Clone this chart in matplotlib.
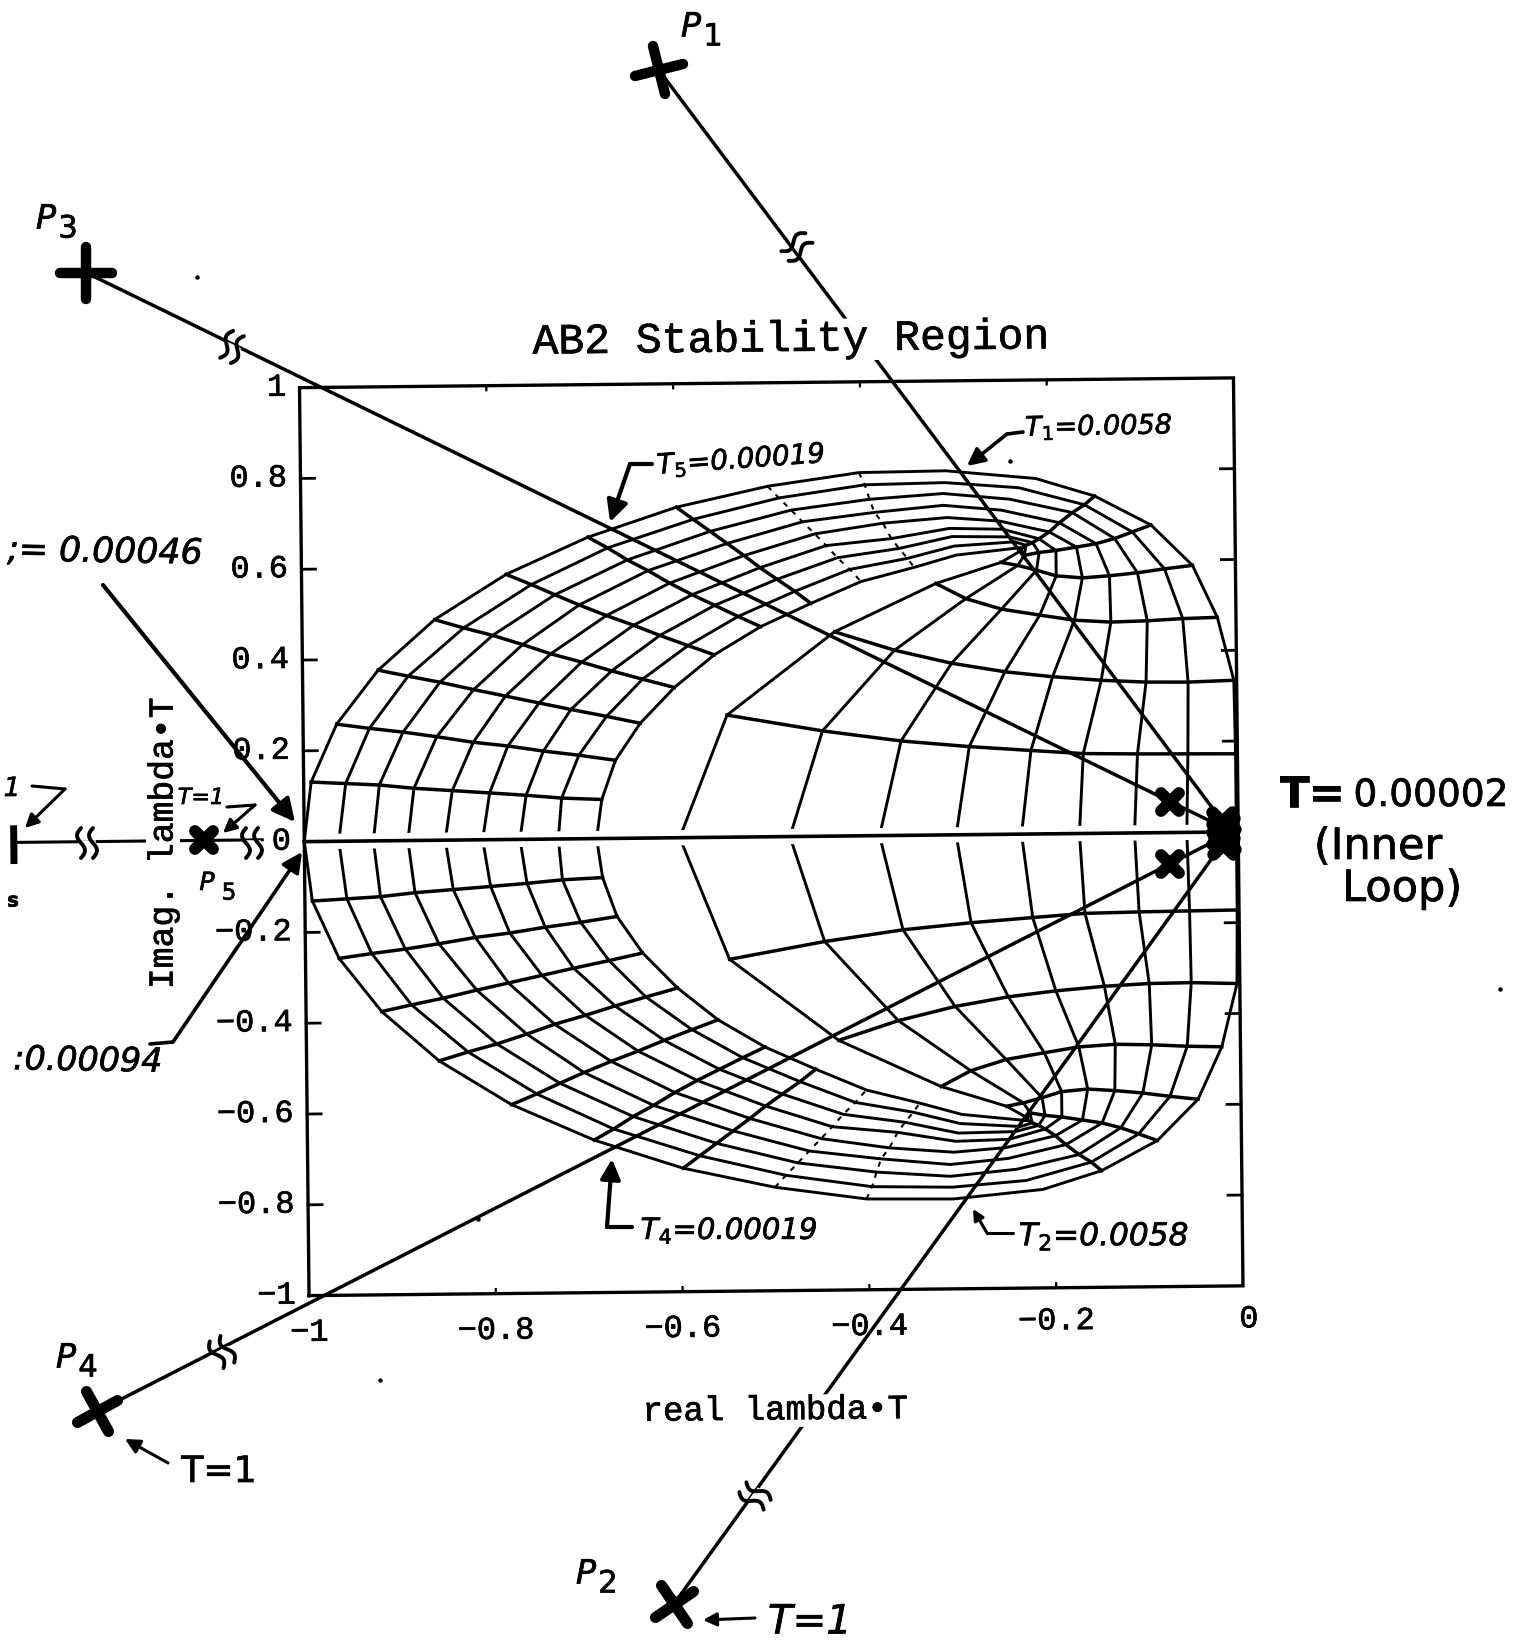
import numpy as np
import matplotlib
matplotlib.use("Agg")
import matplotlib.pyplot as plt
import matplotlib.patheffects as pe
from matplotlib.lines import Line2D
from matplotlib.markers import MarkerStyle
from matplotlib.patches import FancyArrowPatch
from matplotlib.transforms import Affine2D

W, H = 1530, 1649

# Stability mesh, upper half. Each row is one cross line, each column one T curve.
mesh_x = [
    [-1.000, -0.963, -0.926, -0.889, -0.849, -0.809, -0.769, -0.728, -0.687],
    [-0.992, -0.955, -0.919, -0.882, -0.841, -0.801, -0.762, -0.724, -0.681],
    [-0.964, -0.929, -0.893, -0.857, -0.818, -0.781, -0.743, -0.705, -0.666],
    [-0.919, -0.887, -0.853, -0.817, -0.783, -0.747, -0.713, -0.675, -0.639],
    [-0.858, -0.827, -0.796, -0.764, -0.734, -0.701, -0.669, -0.636, -0.602],
    [-0.781, -0.754, -0.729, -0.703, -0.674, -0.645, -0.617, -0.587, -0.559],
    [-0.693, -0.672, -0.651, -0.629, -0.606, -0.582, -0.558, -0.533, -0.509],
    [-0.598, -0.580, -0.562, -0.544, -0.526, -0.509, -0.491, -0.472, -0.455],
    [-0.500, -0.488, -0.475, -0.463, -0.450, -0.438, -0.426, -0.413, -0.401],
    [-0.402, -0.396, -0.391, -0.386, -0.377, -0.368, -0.360, -0.351, -0.344],
    [-0.309, -0.310, -0.312, -0.312, -0.308, -0.306, -0.303, -0.301, -0.299],
    [-0.213, -0.231, -0.241, -0.250, -0.252, -0.249, -0.242, -0.236, -0.230],
    [-0.150, -0.161, -0.174, -0.188, -0.199, -0.210, -0.217, -0.224, -0.229],
    [-0.090, -0.110, -0.129, -0.149, -0.170, -0.192, -0.210, -0.226, -0.229],
    [-0.046, -0.076, -0.105, -0.135, -0.164, -0.192, -0.213, -0.233, -0.251],
    [-0.020, -0.057, -0.095, -0.134, -0.173, -0.210, -0.251, -0.289, -0.321],
    [-0.003, -0.052, -0.097, -0.145, -0.197, -0.248, -0.305, -0.366, -0.430],
    [-0.002, -0.053, -0.107, -0.165, -0.221, -0.287, -0.360, -0.444, -0.546],
    [-0.002, -0.055, -0.111, -0.170, -0.232, -0.302, -0.384, -0.480, -0.598],
]
mesh_y = [
    [0.000, 0.000, 0.000, 0.000, 0.000, 0.000, 0.000, 0.000, 0.000],
    [0.131, 0.127, 0.123, 0.115, 0.109, 0.103, 0.097, 0.090, 0.086],
    [0.258, 0.248, 0.239, 0.228, 0.215, 0.206, 0.194, 0.184, 0.172],
    [0.376, 0.362, 0.348, 0.331, 0.316, 0.300, 0.285, 0.269, 0.253],
    [0.486, 0.467, 0.450, 0.429, 0.408, 0.389, 0.369, 0.350, 0.331],
    [0.584, 0.561, 0.538, 0.515, 0.491, 0.469, 0.446, 0.423, 0.402],
    [0.664, 0.640, 0.613, 0.589, 0.561, 0.535, 0.511, 0.486, 0.463],
    [0.728, 0.701, 0.674, 0.647, 0.620, 0.593, 0.567, 0.540, 0.513],
    [0.772, 0.746, 0.719, 0.693, 0.666, 0.640, 0.613, 0.587, 0.560],
    [0.800, 0.773, 0.741, 0.712, 0.688, 0.654, 0.632, 0.610, 0.590],
    [0.802, 0.776, 0.752, 0.726, 0.699, 0.675, 0.657, 0.636, 0.616],
    [0.783, 0.763, 0.738, 0.714, 0.690, 0.672, 0.655, 0.644, 0.631],
    [0.743, 0.724, 0.707, 0.685, 0.665, 0.650, 0.642, 0.636, 0.629],
    [0.678, 0.663, 0.649, 0.638, 0.631, 0.624, 0.620, 0.614, 0.625],
    [0.588, 0.581, 0.573, 0.567, 0.563, 0.568, 0.581, 0.592, 0.599],
    [0.473, 0.471, 0.467, 0.465, 0.470, 0.482, 0.496, 0.520, 0.554],
    [0.334, 0.331, 0.332, 0.337, 0.346, 0.358, 0.378, 0.408, 0.450],
    [0.172, 0.173, 0.174, 0.176, 0.184, 0.194, 0.208, 0.232, 0.269],
    [0.000, 0.000, 0.000, 0.000, 0.000, 0.000, 0.000, 0.000, 0.000],
]
solid_rows = [1, 2, 3, 4, 5, 6, 7, 12, 13, 14, 15, 16, 17]
dashed_rows = [8, 9]

# Poles at T=1 and the poles they move to
pole_x = [-0.612, -0.613, -1.227, -1.228, -1.107]
pole_y = [1.692, -1.688, 1.258, -1.250, 0.005]
end_x = [-0.012, -0.012, -0.012, -0.012]
end_y = [0.010, -0.012, 0.006, -0.006]
mid_x = [-0.073, -0.0735]
mid_y = [0.068, -0.069]
blob_x = [-0.017, -0.015, -0.017, -0.014, -0.016]
blob_y = [0.022, 0.008, -0.004, -0.016, -0.026]

x_ticks = [-0.8, -0.6, -0.4, -0.2]
y_ticks = [-0.8, -0.6, -0.4, -0.2, 0.2, 0.4, 0.6, 0.8]
x_labels = ["-1", "-0.8", "-0.6", "-0.4", "-0.2", "0"]
x_label_pos = [-1, -0.8, -0.6, -0.4, -0.2, 0]
y_labels = ["-1", "-0.8", "-0.6", "-0.4", "-0.2", "0", "0.2", "0.4", "0.6", "0.8", "1"]
y_label_pos = [-1, -0.8, -0.6, -0.4, -0.2, 0, 0.2, 0.4, 0.6, 0.8, 1]

plt.rcParams["font.family"] = ["DejaVu Sans"]
plt.rcParams["mathtext.default"] = "it"
MONO = "Liberation Mono"
INK = [pe.withStroke(linewidth=0.5, foreground="black")]

fig = plt.figure(figsize=(W / 100, H / 100), dpi=100, facecolor="white")
ax = fig.add_axes([304.25 / W, 357.25 / H, 934 / W, 908 / H])
ax.set_xlim(-1, 0)
ax.set_ylim(-1, 1)
ax.axis("off")
# the page was scanned a little crooked
scan = ax.transData + Affine2D().rotate_deg_around(771.25, 811.25, 0.6)


def fp(x, y):
    return x / W, 1 - y / H


def hand_text(x, y, s, size, rot=0, **kw):
    kw.setdefault("style", "italic")
    t = fig.text(*fp(x, y), s, fontsize=size, rotation=rot, ha="center", va="center",
                 rotation_mode="anchor", color="black", zorder=6, **kw)
    t.set_path_effects(INK)


def p_label(x, y, digit, size):
    hand_text(x - 11, y - 2, "P", size)
    hand_text(x + 11, y + 8, digit, size * 0.92, style="normal")


def hand_arrow(pts, lw=2.4, head=24):
    xs, ys = zip(*[fp(*p) for p in pts[:-1]])
    if len(pts) > 2:
        fig.add_artist(Line2D(xs, ys, color="black", lw=lw, transform=fig.transFigure,
                              solid_capstyle="round", zorder=6))
    fig.add_artist(FancyArrowPatch(fp(*pts[-2]), fp(*pts[-1]), transform=fig.transFigure,
                                   arrowstyle="-|>", mutation_scale=head, lw=lw,
                                   color="black", shrinkA=0, shrinkB=0, zorder=6))


def line_break(cx, cy, dx, dy):
    # two small s-shaped strokes where the line is cut
    n = np.hypot(dx, dy)
    ux, uy = dx / n, dy / n
    vx, vy = -uy, ux
    a = fp(cx - 6 * ux, cy - 6 * uy)
    b = fp(cx + 6 * ux, cy + 6 * uy)
    fig.add_artist(Line2D([a[0], b[0]], [a[1], b[1]], color="white", lw=4,
                          transform=fig.transFigure, zorder=5))
    t = np.linspace(-1, 1, 21)
    for off in (-6, 6):
        px = cx + off * ux + 15 * t * vx + 4 * np.sin(np.pi * t) * ux
        py = cy + off * uy + 15 * t * vy + 4 * np.sin(np.pi * t) * uy
        q = np.array([fp(a1, b1) for a1, b1 in zip(px, py)])
        fig.add_artist(Line2D(q[:, 0], q[:, 1], color="black", lw=2.8,
                              transform=fig.transFigure, zorder=5,
                              solid_capstyle="round"))


mx = np.array(mesh_x)
my = np.array(mesh_y)

# mesh is symmetric about the real axis
for sign in (1, -1):
    for c in range(mx.shape[1]):
        ax.plot(mx[:, c], sign * my[:, c], color="black", lw=2.1, transform=scan,
                clip_on=False, zorder=2, solid_joinstyle="miter")
    for r in solid_rows:
        ax.plot(mx[r], sign * my[r], color="black", lw=2.5, transform=scan,
                clip_on=False, zorder=2)
    for r in dashed_rows:
        ax.plot(mx[r], sign * my[r], color="black", lw=1.5, linestyle=(0, (2.5, 3)),
                transform=scan, clip_on=False, zorder=2)

# the columns stop short of the real axis in the scan
ax.plot([-0.975, -0.008], [0, 0], color="white", lw=11, transform=scan,
        clip_on=False, zorder=3, solid_capstyle="butt")

# frame and ticks
ax.plot([-1, 0, 0, -1, -1], [-1, -1, 1, 1, -1], color="black", lw=2.4,
        transform=scan, clip_on=False, zorder=3, solid_joinstyle="miter")
for v in y_ticks:
    ax.plot([-1, -0.985], [v, v], color="black", lw=2, transform=scan, zorder=3, clip_on=False)
    ax.plot([-0.015, 0], [v, v], color="black", lw=2, transform=scan, zorder=3, clip_on=False)
for v in x_ticks:
    ax.plot([v, v], [-1, -0.99], color="black", lw=1.6, transform=scan, zorder=3, clip_on=False)
    ax.plot([v, v], [0.99, 1], color="black", lw=1.6, transform=scan, zorder=3, clip_on=False)

for v, s in zip(x_label_pos, x_labels):
    t = ax.text(v + (0.006 if v == 0 else 0), -1.082 if v < -0.2 else -1.074, s.replace("-", "\u2212"),
                transform=scan, family=MONO, fontsize=23, ha="center", va="center", rotation=0.6, zorder=7)
    t.set_path_effects(INK)
for v, s in zip(y_label_pos, y_labels):
    t = ax.text(-1.014, v, s.replace("-", "\u2212"), transform=scan, family=MONO, fontsize=23,
                ha="right", va="center", rotation=0.6, zorder=7)
    t.set_path_effects(INK)

# real axis, cut by the P5 part of the sketch
ax.plot([-1.0, 0], [0, 0], color="black", lw=2.6, transform=scan, clip_on=False, zorder=4)
ax.plot([-1.311, -1.045], [0.005, 0.005], color="black", lw=2.2, transform=scan,
        clip_on=False, zorder=4)

# root paths
for i in range(4):
    ax.plot([pole_x[i], end_x[i]], [pole_y[i], end_y[i]], color="black", lw=2.5,
            transform=scan, clip_on=False, zorder=4)

plus = [(36, 7.5, 14), (33, 8, 35), (38, 7.5, 0), (33, 8, 28)]
for i, (size, mew, turn) in enumerate(plus):
    m = MarkerStyle("+", transform=Affine2D().rotate_deg(turn), capstyle="round")
    ax.plot(pole_x[i], pole_y[i], marker=m, ms=size, mew=mew, color="black",
            transform=scan, clip_on=False, zorder=5, linestyle="none")
m = MarkerStyle("+", transform=Affine2D().rotate_deg(45), capstyle="round")
ax.plot(pole_x[4], pole_y[4], marker=m, ms=18, mew=8.5, color="black", transform=scan,
        clip_on=False, zorder=5, linestyle="none")
ax.plot(mid_x, mid_y, marker=m, ms=18, mew=8.5, color="black", transform=scan,
        clip_on=False, zorder=5, linestyle="none")
ax.plot(blob_x, blob_y, marker=m, ms=20, mew=9, color="black", transform=scan,
        clip_on=False, zorder=5, linestyle="none")
# cut-off pole at the page edge
ax.plot([-1.311, -1.311], [0.035, -0.035], color="black", lw=5, transform=scan,
        clip_on=False, zorder=5)

# scale breaks
line_break(797, 248, 568, 760)
line_break(232, 348, 1141, 555)
line_break(222, 1353, 1131, -578)
line_break(755, 1497, 555, -766)
line_break(87, 844, 1, 0)
line_break(252, 844, 1, 0)

# printed title and axis labels; their white box cuts the lines behind them
white = dict(facecolor="white", edgecolor="none", pad=0.5)
for x, y, s, size, rot in [(790, 341, "AB2 Stability Region", 31, 0.6),
                           (775, 1412, "real lambda\u2022T", 24.5, 0.6),
                           (163, 844, "Imag. lambda\u2022T", 25, 90)]:
    t = fig.text(*fp(x, y), s, family=MONO, fontsize=size, ha="center", va="center",
                 rotation=rot, rotation_mode="anchor", bbox=white, zorder=3)
    t.set_path_effects(INK)

# handwritten notes
p_label(702, 30, "1", 24)
p_label(57, 222, "3", 24)
p_label(77, 1361, "4", 24)
p_label(597, 1577, "2", 24)
p_label(218, 886, "5", 18)
hand_text(219, 1473, "T=1", 26, style="normal")
hand_text(810, 1623, "T=1", 29)
hand_text(201, 799, "T=1", 16)
hand_text(12, 790, "1", 19)
hand_text(13, 902, "s", 14, weight="bold", style="normal")

hand_text(105, 553, ";= 0.00046", 25, rot=-1)
hand_text(88, 1062, ":0.00094", 24, rot=-1)
hand_text(741, 461, "T$_5$=0.00019", 20, rot=4)
hand_text(729, 1232, "T$_4$=0.00019", 21, rot=0)
hand_text(1099, 428, "T$_1$=0.0058", 19.5, rot=1)
hand_text(1104, 1238, "T$_2$=0.0058", 22.5, rot=0)

hand_text(1312, 796, "T=", 31, style="normal", weight="bold")
hand_text(1431, 797, "0.00002", 27, style="normal")
hand_text(1378, 848, "(Inner", 31, style="normal")
hand_text(1402, 890, "Loop)", 31, style="normal")

hand_arrow([(652, 465), (630, 465), (610, 523)], lw=3, head=32)
hand_arrow([(1023, 433), (1007, 435), (967, 467)], lw=2.6, head=26)
hand_arrow([(632, 1228), (607, 1228), (612, 1160)], lw=3, head=30)
hand_arrow([(1013, 1234), (987, 1234), (973, 1210)], lw=2.2, head=16)
hand_arrow([(103, 586), (295, 823)], lw=3, head=34)
hand_arrow([(150, 1045), (173, 1043), (302, 853)], lw=2.6, head=30)
hand_arrow([(227, 808), (255, 806), (223, 834)], lw=2.2, head=20)
hand_arrow([(32, 787), (65, 790), (25, 829)], lw=2.2, head=20)
hand_arrow([(168, 1464), (125, 1440)], lw=2.2, head=22)
hand_arrow([(755, 1619), (703, 1621)], lw=2.2, head=20)

# specks from the scan
speck_px = [(197, 278), (380, 1381), (478, 1220), (1500, 990), (1010, 462)]
for x, y in speck_px:
    a, b = fp(x, y)
    fig.add_artist(Line2D([a], [b], marker="o", ms=2.2, color="black",
                          transform=fig.transFigure, linestyle="none"))

fig.savefig("out.png", dpi=100)
